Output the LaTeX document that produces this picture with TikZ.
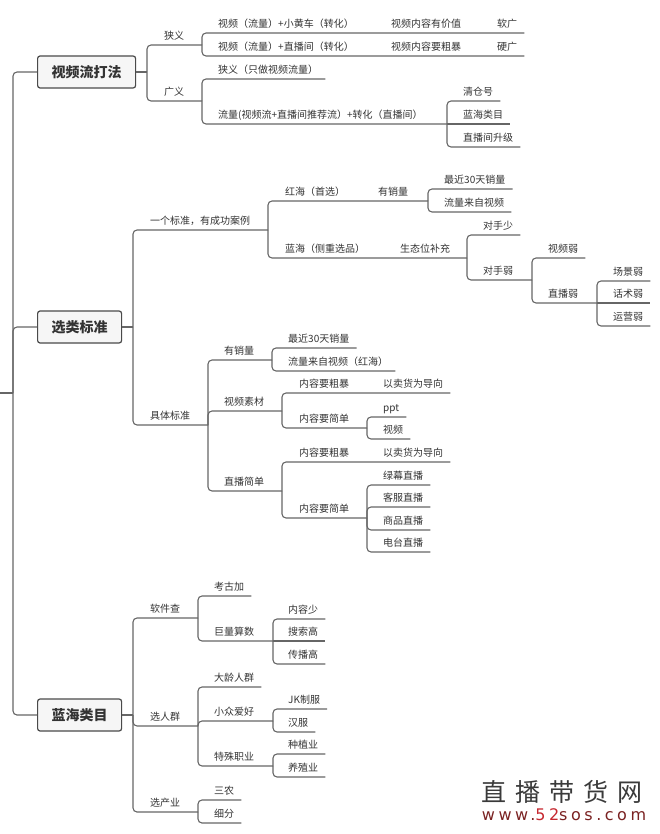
\documentclass[tikz,border=0pt]{standalone}
\usepackage{fontspec}
\usepackage{xcolor}
\usepackage{tikz}
\usetikzlibrary{calc}
\setmainfont{Noto Sans CJK SC}
\newfontfamily\urlfont[LetterSpace=22]{DejaVu Sans}
\definecolor{txtgray}{HTML}{333333}
\definecolor{linegray}{HTML}{666666}
\definecolor{boxline}{HTML}{4A4A4A}
\definecolor{boxfill}{HTML}{F6F6F6}
\definecolor{wmgray}{HTML}{3A3A3A}
\definecolor{urlmaroon}{HTML}{7A2222}
\definecolor{urlred}{HTML}{C62830}
\newcommand{\leafline}[2]{\draw[link] (#1) |- ([xshift=7pt]#2.south east);}
\newcommand{\flatleaf}[2]{\draw[link] (#1) -- ([xshift=7pt]#2.south east);}
\newcommand{\branchline}[2]{\draw[link] (#1) |- (#2);}
\tikzset{
  topic/.style={anchor=south west,inner xsep=0pt,inner ysep=3pt,text height=8.5pt,text depth=2pt,
    font=\fontsize{10}{12}\selectfont,text=txtgray},
  mainbox/.style={anchor=west,draw=boxline,fill=boxfill,rounded corners=2.5pt,line width=1.2pt,
    minimum height=32pt,inner xsep=14pt,font=\fontsize{14}{16}\selectfont\bfseries,text=txtgray},
  link/.style={draw=linegray,line width=1.1pt,rounded corners=4pt},
}

\begin{document}
\begin{tikzpicture}[x=1pt,y=-1pt]
  \useasboundingbox (0,0) rectangle (659,834);
  % root
  \coordinate (root) at (0,393);
  \coordinate (jr) at (13,393);
  \node[mainbox] (A) at (37,72) {视频流打法};
  \node[mainbox] (B) at (37,327) {选类标准};
  \node[mainbox] (C) at (37,715) {蓝海类目};
  \draw[link] (root) -- (jr);
  \draw[link] (jr) |- (A.west);
  \draw[link] (jr) |- (B.west);
  \draw[link] (jr) |- (C.west);

  % 视频流打法
  \coordinate (jA) at (147,72);
  \draw[link] (A.east) -- (jA);
  \node[topic] (a1) at (164,45) {狭义};
  \node[topic] (a2) at (164,101) {广义};
  \coordinate (ja1) at (202,45);
  \coordinate (ja2) at (202,101);
  \branchline{jA}{ja1}
  \branchline{jA}{ja2}
  \node[topic] (a11) at (218,33) {视频（流量）+小黄车（转化）};
  \node[topic] (a111) at (391,33) {视频内容有价值};
  \node[topic] (a1111) at (497,33) {软广};
  \node[topic] (a12) at (218,56) {视频（流量）+直播间（转化）};
  \node[topic] (a121) at (391,56) {视频内容要粗暴};
  \node[topic] (a1211) at (497,56) {硬广};
  \leafline{ja1}{a1111}
  \leafline{ja1}{a1211}
  \node[topic] (a21) at (218,79) {狭义（只做视频流量）};
  \node[topic] (a22) at (218,124) {流量(视频流+直播间推荐流）+转化（直播间）};
  \coordinate (ja22) at (447,124);
  \leafline{ja2}{a21}
  \branchline{ja2}{ja22}
  \node[topic] (a221) at (463,101) {清仓号};
  \node[topic] (a222) at (463,124) {蓝海类目};
  \node[topic] (a223) at (463,147) {直播间升级};
  \leafline{ja22}{a221}
  \flatleaf{ja22}{a222}
  \leafline{ja22}{a223}

  % 选类标准
  \coordinate (jB) at (133,327);
  \draw[link] (B.east) -- (jB);
  \node[topic] (b1) at (150,230) {一个标准，有成功案例};
  \node[topic] (b2) at (150,425) {具体标准};
  \coordinate (jb1) at (268,230);
  \coordinate (jb2) at (208,425);
  \branchline{jB}{jb1}
  \branchline{jB}{jb2}
  \node[topic] (b11) at (285,201) {红海（首选）};
  \node[topic] (b111) at (378,201) {有销量};
  \node[topic] (b12) at (285,258) {蓝海（侧重选品）};
  \node[topic] (b121) at (400,258) {生态位补充};
  \coordinate (jb11) at (428,201);
  \coordinate (jb12) at (467,258);
  \branchline{jb1}{jb11}
  \branchline{jb1}{jb12}
  \node[topic] (b1111) at (444,189) {最近30天销量};
  \node[topic] (b1112) at (444,212) {流量来自视频};
  \leafline{jb11}{b1111}
  \leafline{jb11}{b1112}
  \node[topic] (b1211) at (483,235) {对手少};
  \node[topic] (b1212) at (483,280) {对手弱};
  \coordinate (jb1212) at (532,280);
  \leafline{jb12}{b1211}
  \branchline{jb12}{jb1212}
  \node[topic] (v1) at (548,258) {视频弱};
  \node[topic] (v2) at (548,303) {直播弱};
  \coordinate (jv2) at (597,303);
  \leafline{jb1212}{v1}
  \branchline{jb1212}{jv2}
  \node[topic] (w1) at (613,281) {场景弱};
  \node[topic] (w2) at (613,303) {话术弱};
  \node[topic] (w3) at (613,326) {运营弱};
  \leafline{jv2}{w1}
  \flatleaf{jv2}{w2}
  \leafline{jv2}{w3}

  \node[topic] (b21) at (224,360) {有销量};
  \node[topic] (b22) at (224,411) {视频素材};
  \node[topic] (b23) at (224,491) {直播简单};
  \coordinate (jb21) at (272,360);
  \coordinate (jb22) at (282,411);
  \coordinate (jb23) at (282,491);
  \branchline{jb2}{jb21}
  \branchline{jb2}{jb22}
  \branchline{jb2}{jb23}
  \node[topic] (b211) at (288,348) {最近30天销量};
  \node[topic] (b212) at (288,371) {流量来自视频（红海）};
  \leafline{jb21}{b211}
  \leafline{jb21}{b212}
  \node[topic] (b221) at (299,393) {内容要粗暴};
  \node[topic] (b2211) at (383,393) {以卖货为导向};
  \node[topic] (b222) at (299,428) {内容要简单};
  \coordinate (jb222) at (367,428);
  \leafline{jb22}{b2211}
  \branchline{jb22}{jb222}
  \node[topic] (p1) at (383,417) {ppt};
  \node[topic] (p2) at (383,439) {视频};
  \leafline{jb222}{p1}
  \leafline{jb222}{p2}
  \node[topic] (b231) at (299,462) {内容要粗暴};
  \node[topic] (b2311) at (383,462) {以卖货为导向};
  \node[topic] (b232) at (299,518) {内容要简单};
  \coordinate (jb232) at (367,518);
  \leafline{jb23}{b2311}
  \branchline{jb23}{jb232}
  \node[topic] (s1) at (383,485) {绿幕直播};
  \node[topic] (s2) at (383,507) {客服直播};
  \node[topic] (s3) at (383,530) {商品直播};
  \node[topic] (s4) at (383,552) {电台直播};
  \leafline{jb232}{s1}
  \leafline{jb232}{s2}
  \leafline{jb232}{s3}
  \leafline{jb232}{s4}

  % 蓝海类目
  \coordinate (jC) at (133,715);
  \draw[link] (C.east) -- (jC);
  \node[topic] (c1) at (150,618) {软件查};
  \node[topic] (c2) at (150,726) {选人群};
  \node[topic] (c3) at (150,812) {选产业};
  \coordinate (jc1) at (198,618);
  \coordinate (jc2) at (198,726);
  \coordinate (jc3) at (198,812);
  \branchline{jC}{jc1}
  \branchline{jC}{jc2}
  \branchline{jC}{jc3}
  \node[topic] (c11) at (214,596) {考古加};
  \node[topic] (c12) at (214,641) {巨量算数};
  \coordinate (jc12) at (273,641);
  \leafline{jc1}{c11}
  \branchline{jc1}{jc12}
  \node[topic] (c121) at (288,619) {内容少};
  \node[topic] (c122) at (288,641) {搜索高};
  \node[topic] (c123) at (288,664) {传播高};
  \leafline{jc12}{c121}
  \flatleaf{jc12}{c122}
  \leafline{jc12}{c123}
  \node[topic] (c21) at (214,687) {大龄人群};
  \node[topic] (c22) at (214,721) {小众爱好};
  \node[topic] (c23) at (214,766) {特殊职业};
  \coordinate (jc22) at (273,721);
  \coordinate (jc23) at (273,766);
  \leafline{jc2}{c21}
  \branchline{jc2}{jc22}
  \branchline{jc2}{jc23}
  \node[topic] (c221) at (288,709) {JK制服};
  \node[topic] (c222) at (288,732) {汉服};
  \leafline{jc22}{c221}
  \leafline{jc22}{c222}
  \node[topic] (c231) at (288,754) {种植业};
  \node[topic] (c232) at (288,777) {养殖业};
  \leafline{jc23}{c231}
  \leafline{jc23}{c232}
  \node[topic] (c31) at (214,800) {三农};
  \node[topic] (c32) at (214,823) {细分};
  \leafline{jc3}{c31}
  \leafline{jc3}{c32}

  % watermark
  \node[text=wmgray,font=\fontsize{25}{27}\selectfont,inner sep=0pt] (wm) at (562,792)
    {直\hspace{9pt}播\hspace{9pt}带\hspace{9pt}货\hspace{9pt}网};
  \node[text=urlmaroon,font=\urlfont\fontsize{16}{18}\selectfont,inner sep=0pt] (url) at (564,815)
    {www.\textcolor{urlred}{52}sos.com};
\end{tikzpicture}
\end{document}
